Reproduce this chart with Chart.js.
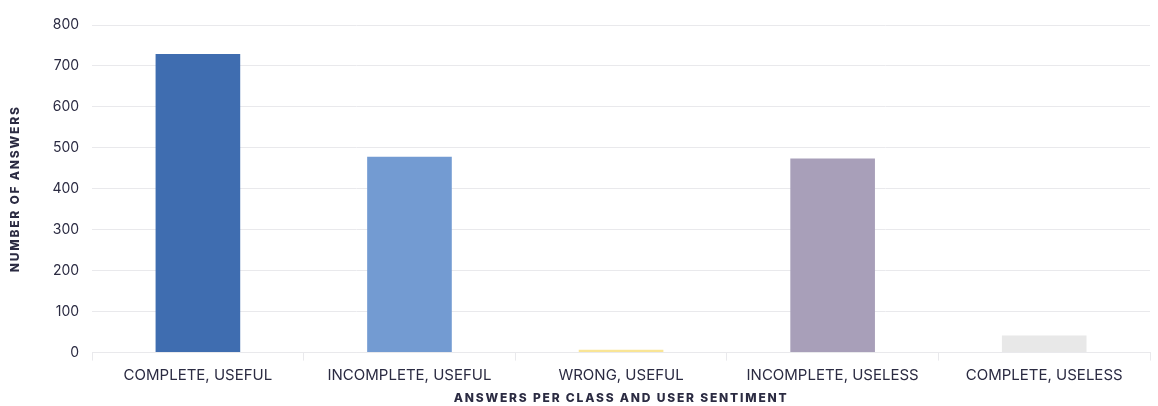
<!DOCTYPE html>
<html>
<head>
<meta charset="utf-8">
<script src="https://cdn.jsdelivr.net/npm/chart.js@4"></script>
<style>
  html, body { margin: 0; padding: 0; background: #fff; }
  #wrap { width: 1158px; height: 406px; }
</style>
</head>
<body>
<div id="wrap"><canvas id="answersChart"></canvas></div>
<script>
const categories = ['COMPLETE, USEFUL', 'INCOMPLETE, USEFUL', 'WRONG, USEFUL', 'INCOMPLETE, USELESS', 'COMPLETE, USELESS'];
const answerCounts = [729, 478, 7, 474, 42];
const barColors = ['#3F6DB0', '#739BD2', '#F9E596', '#A89FB9', '#E8E8E8'];
const yTicks = [0, 100, 200, 300, 400, 500, 600, 700, 800];

const textColor = '#2B2B42';

// spaced-out text for the axis titles
function spaceTitle(scale, spacing) {
    if (scale._spaced) return;
    const orig = scale.drawTitle;
    scale.drawTitle = function() {
        const c = this.ctx;
        const old = c.letterSpacing;
        c.letterSpacing = spacing;
        orig.call(this);
        c.letterSpacing = old;
    };
    scale._spaced = true;
}

const spacingPlugin = {
    id: 'spacing',
    beforeDraw(chart) {
        spaceTitle(chart.scales.x, '1.8px');
        spaceTitle(chart.scales.y, '1.8px');
    }
};

const ctx = document.getElementById('answersChart').getContext('2d');
new Chart(ctx, {
    type: 'bar',
    data: {
        labels: categories,
        datasets: [{
            data: answerCounts,
            backgroundColor: barColors,
            barPercentage: 0.4,
            categoryPercentage: 1.0
        }]
    },
    plugins: [spacingPlugin],
    options: {
        responsive: true,
        maintainAspectRatio: false,
        animation: false,
        layout: { padding: { top: 25, right: 8, left: 8, bottom: 0 } },
        plugins: {
            legend: { display: false },
            tooltip: { enabled: false }
        },
        scales: {
            y: {
                min: 0,
                max: 800,
                afterBuildTicks: axis => { axis.ticks = yTicks.map(v => ({ value: v })); },
                border: { display: false },
                grid: { color: '#E9E9EC', lineWidth: 1, drawTicks: false },
                ticks: {
                    color: textColor,
                    padding: 13,
                    font: { family: 'Inter', size: 14 }
                },
                title: {
                    display: true,
                    text: 'NUMBER OF ANSWERS',
                    color: textColor,
                    padding: { top: 0, bottom: 17 },
                    font: { family: 'Inter', size: 12, weight: 800 }
                }
            },
            x: {
                border: { display: true, color: '#E9E9EC' },
                grid: {
                    drawOnChartArea: false,
                    color: '#E9E9EC',
                    tickLength: 8,
                    offset: true
                },
                ticks: {
                    color: textColor,
                    padding: 6,
                    font: { family: 'Inter', size: 15 }
                },
                title: {
                    display: true,
                    text: 'ANSWERS PER CLASS AND USER SENTIMENT',
                    color: textColor,
                    padding: { top: 1, bottom: 0 },
                    font: { family: 'Inter', size: 12, weight: 800 }
                }
            }
        }
    }
});
</script>
</body>
</html>
